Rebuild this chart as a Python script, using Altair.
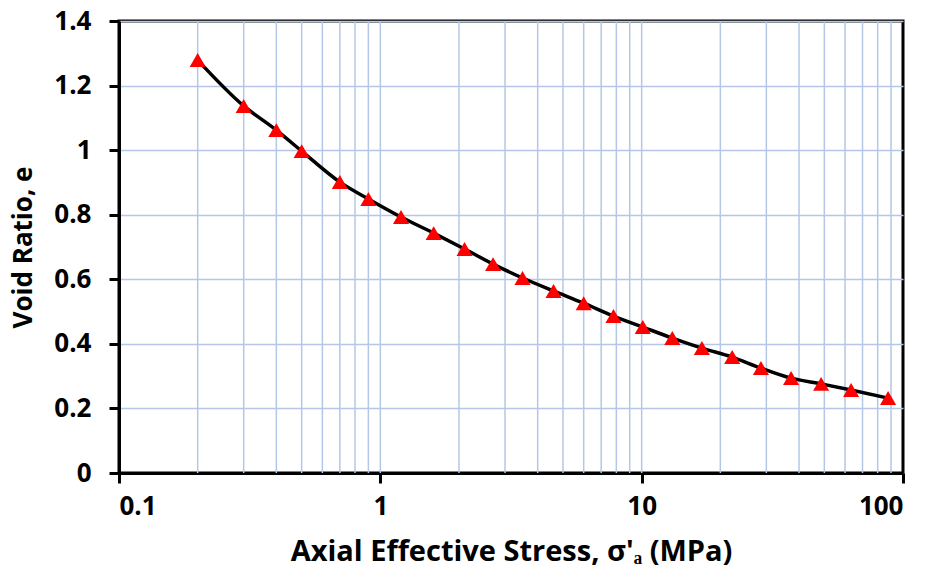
import altair as alt
import pandas as pd

stress = [0.2, 0.3, 0.4, 0.5, 0.7, 0.9, 1.2, 1.6, 2.1, 2.7, 3.5, 4.6, 6.0, 7.8,
          10.1, 13.1, 17.0, 22.2, 28.6, 37.3, 48.6, 63.3, 87.7]
void_ratio = [1.279, 1.137, 1.062, 0.997, 0.901, 0.849, 0.793, 0.743, 0.694, 0.647,
              0.604, 0.564, 0.526, 0.486, 0.452, 0.418, 0.387, 0.359, 0.325, 0.294,
              0.276, 0.257, 0.232]
x_grid = [0.2, 0.3, 0.4, 0.5, 0.6, 0.7, 0.8, 0.9, 1, 2, 3, 4, 5, 6, 7, 8, 9, 10,
          20, 30, 40, 50, 60, 70, 80, 90]
x_ticks = [0.1, 1, 10, 100]
y_ticks = [0, 0.2, 0.4, 0.6, 0.8, 1.0, 1.2, 1.4]

FONT = "Open Sans"
GRID = "#B4C7E7"

df = pd.DataFrame({"s": stress, "e": void_ratio})
gdf = pd.DataFrame({"g": x_grid})

xscale = alt.Scale(type="log", domain=[0.1, 100], nice=False)
yscale = alt.Scale(domain=[0, 1.4], nice=False, zero=False)

xaxis = alt.Axis(values=x_ticks, title="Axial Effective Stress, σ'ₐ (MPa)",
                 grid=False, format="~g", labelFontSize=26, labelFont=FONT,
                 labelFontWeight="bold", labelColor="black", labelPadding=10,
                 tickSize=10, tickWidth=3, tickColor="black",
                 domainColor="black", domainWidth=3,
                 titleFont=FONT, titleFontSize=29, titleFontWeight="bold",
                 titleColor="black", titlePadding=18)
yaxis = alt.Axis(values=y_ticks, title="Void Ratio, e", grid=True,
                 gridColor=GRID, gridWidth=1.5, format="~g",
                 labelFontSize=26, labelFont=FONT, labelFontWeight="bold",
                 labelColor="black", labelPadding=18, tickSize=10, tickWidth=3,
                 tickColor="black", domainColor="black", domainWidth=3,
                 titleFont=FONT, titleFontSize=26, titleFontWeight="bold",
                 titleColor="black", titlePadding=17)

grid = alt.Chart(gdf).mark_rule(color=GRID, strokeWidth=1.5).encode(
    x=alt.X("g:Q", scale=xscale, axis=xaxis)
)
line = alt.Chart(df).mark_line(color="black", strokeWidth=3.5,
                               interpolate="monotone").encode(
    x=alt.X("s:Q", scale=xscale, axis=xaxis),
    y=alt.Y("e:Q", scale=yscale, axis=yaxis),
)
pts = alt.Chart(df).mark_point(shape="triangle-up", filled=True, color="#FF0000",
                               size=260, opacity=1).encode(
    x=alt.X("s:Q", scale=xscale),
    y=alt.Y("e:Q", scale=yscale),
)

chart = alt.layer(grid, line, pts).properties(
    width=784, height=452,
    autosize=alt.AutoSizeParams(type="none"),
    padding={"left": 119, "top": 21, "right": 27, "bottom": 104},
    background="white",
).configure_view(stroke="black", strokeWidth=3)

chart.save("out.html", embed_options={"renderer": "svg", "actions": False})
